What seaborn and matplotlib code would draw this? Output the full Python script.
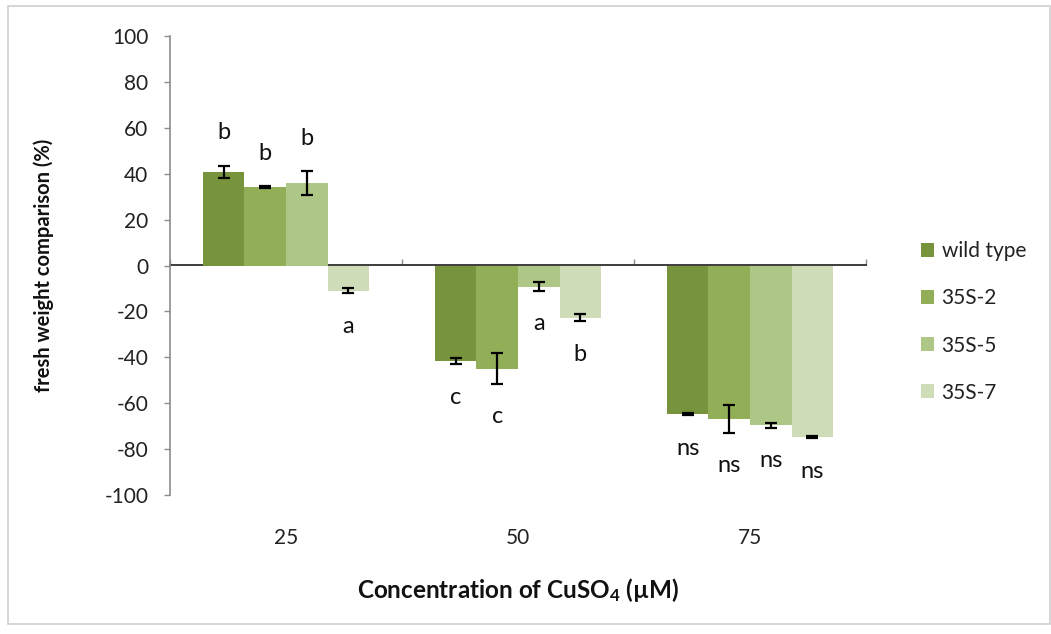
import matplotlib
matplotlib.use("Agg")
import matplotlib.pyplot as plt
import seaborn as sns
import pandas as pd
import numpy as np
from matplotlib.patches import Rectangle

# ---- data ----
concentrations = ["25", "50", "75"]
lines = ["wild type", "35S-2", "35S-5", "35S-7"]
values = {
    "wild type": [40.8, -41.6, -64.7],
    "35S-2": [34.1, -44.9, -66.9],
    "35S-5": [35.8, -9.2, -69.6],
    "35S-7": [-11.0, -22.7, -74.7],
}
errors = {
    "wild type": [2.7, 1.5, 0.6],
    "35S-2": [0.5, 6.6, 5.9],
    "35S-5": [5.2, 1.8, 1.0],
    "35S-7": [1.1, 1.6, 0.5],
}
letters = {
    "wild type": ["b", "c", "ns"],
    "35S-2": ["b", "c", "ns"],
    "35S-5": ["b", "a", "ns"],
    "35S-7": ["a", "b", "ns"],
}
colors = ["#77933C", "#92AF58", "#AEC686", "#CEDCB8"]
y_ticks = [-100, -80, -60, -40, -20, 0, 20, 40, 60, 80, 100]

rows = []
for ln in lines:
    for i, c in enumerate(concentrations):
        rows.append({"conc": c, "line": ln, "value": values[ln][i], "err": errors[ln][i]})
df = pd.DataFrame(rows)

sns.set_theme(style="white")
plt.rcParams["font.family"] = ["Lato", "DejaVu Sans"]
plt.rcParams["mathtext.fontset"] = "custom"
plt.rcParams["mathtext.rm"] = "Lato"
plt.rcParams["mathtext.bf"] = "Lato:bold"
plt.rcParams["mathtext.default"] = "bf"

W, H = 1051, 634
fig = plt.figure(figsize=(W / 100, H / 100), dpi=100)
ax = fig.add_axes([170 / W, 1 - 495 / H, (866 - 170) / W, (495 - 36) / H])

sns.barplot(data=df, x="conc", y="value", hue="line", order=concentrations,
            hue_order=lines, palette=colors, width=0.716, gap=0,
            errorbar=None, saturation=1, ax=ax, legend=True, linewidth=0)

# error bars and letters
for j, ln in enumerate(lines):
    cont = ax.containers[j]
    for i, bar in enumerate(cont.patches):
        x = bar.get_x() + bar.get_width() / 2
        v = values[ln][i]
        e = errors[ln][i]
        ax.errorbar(x, v, yerr=e, fmt="none", ecolor="black", elinewidth=1.6,
                    capsize=4.3, capthick=1.6, zorder=5)
        sgn = 1 if v >= 0 else -1
        ax.annotate(letters[ln][i], xy=(x, v + sgn * e), xytext=(0, sgn * 33),
                    textcoords="offset pixels", ha="center", va="center",
                    fontsize=17, color="#111111")

ax.set_xlim(-0.5, 2.5)
ax.set_ylim(-100, 100)
ax.set_yticks(y_ticks)
ax.set_yticklabels([str(t) for t in y_ticks])

for s in ["top", "right", "bottom"]:
    ax.spines[s].set_visible(False)
ax.spines["left"].set_color("#8C8C8C")
ax.spines["left"].set_linewidth(1.2)
ax.tick_params(axis="y", direction="out", length=4.5, width=1.0, color="#8C8C8C",
               pad=11, labelsize=15, labelcolor="#222222", left=True)
ax.tick_params(axis="x", length=0, pad=24, labelsize=15, labelcolor="#222222")

# category axis at zero
sec = ax.secondary_xaxis(0.5)
sec.set_xticks([-0.5, 0.5, 1.5, 2.5])
sec.set_xticklabels([])
sec.tick_params(direction="out", length=4.5, width=1.0, color="#8C8C8C")
sec.spines["bottom"].set_color("#8C8C8C")
sec.spines["bottom"].set_linewidth(1.2)

ax.set_xlabel("Concentration of CuSO$_4$ (µM)", fontsize=17.5, fontweight="bold",
              labelpad=20, color="#111111")
ax.set_ylabel("fresh weight comparison (%)", fontsize=14.5, fontweight="bold",
              labelpad=36, color="#111111")

leg = ax.legend(loc="center left", bbox_to_anchor=(902 / W, 1 - 322 / H),
                bbox_transform=fig.transFigure, frameon=False, fontsize=15,
                handlelength=0.65, handleheight=0.65, handletextpad=0.35,
                labelspacing=1.3)
for t in leg.get_texts():
    t.set_color("#222222")

fig.patches.append(Rectangle((8 / W, 1 - 624 / H), (1050 - 8) / W, (624 - 6) / H,
                             transform=fig.transFigure, fill=False,
                             edgecolor="#D0D0D0", linewidth=1.2))

fig.savefig("out.png", dpi=100)
